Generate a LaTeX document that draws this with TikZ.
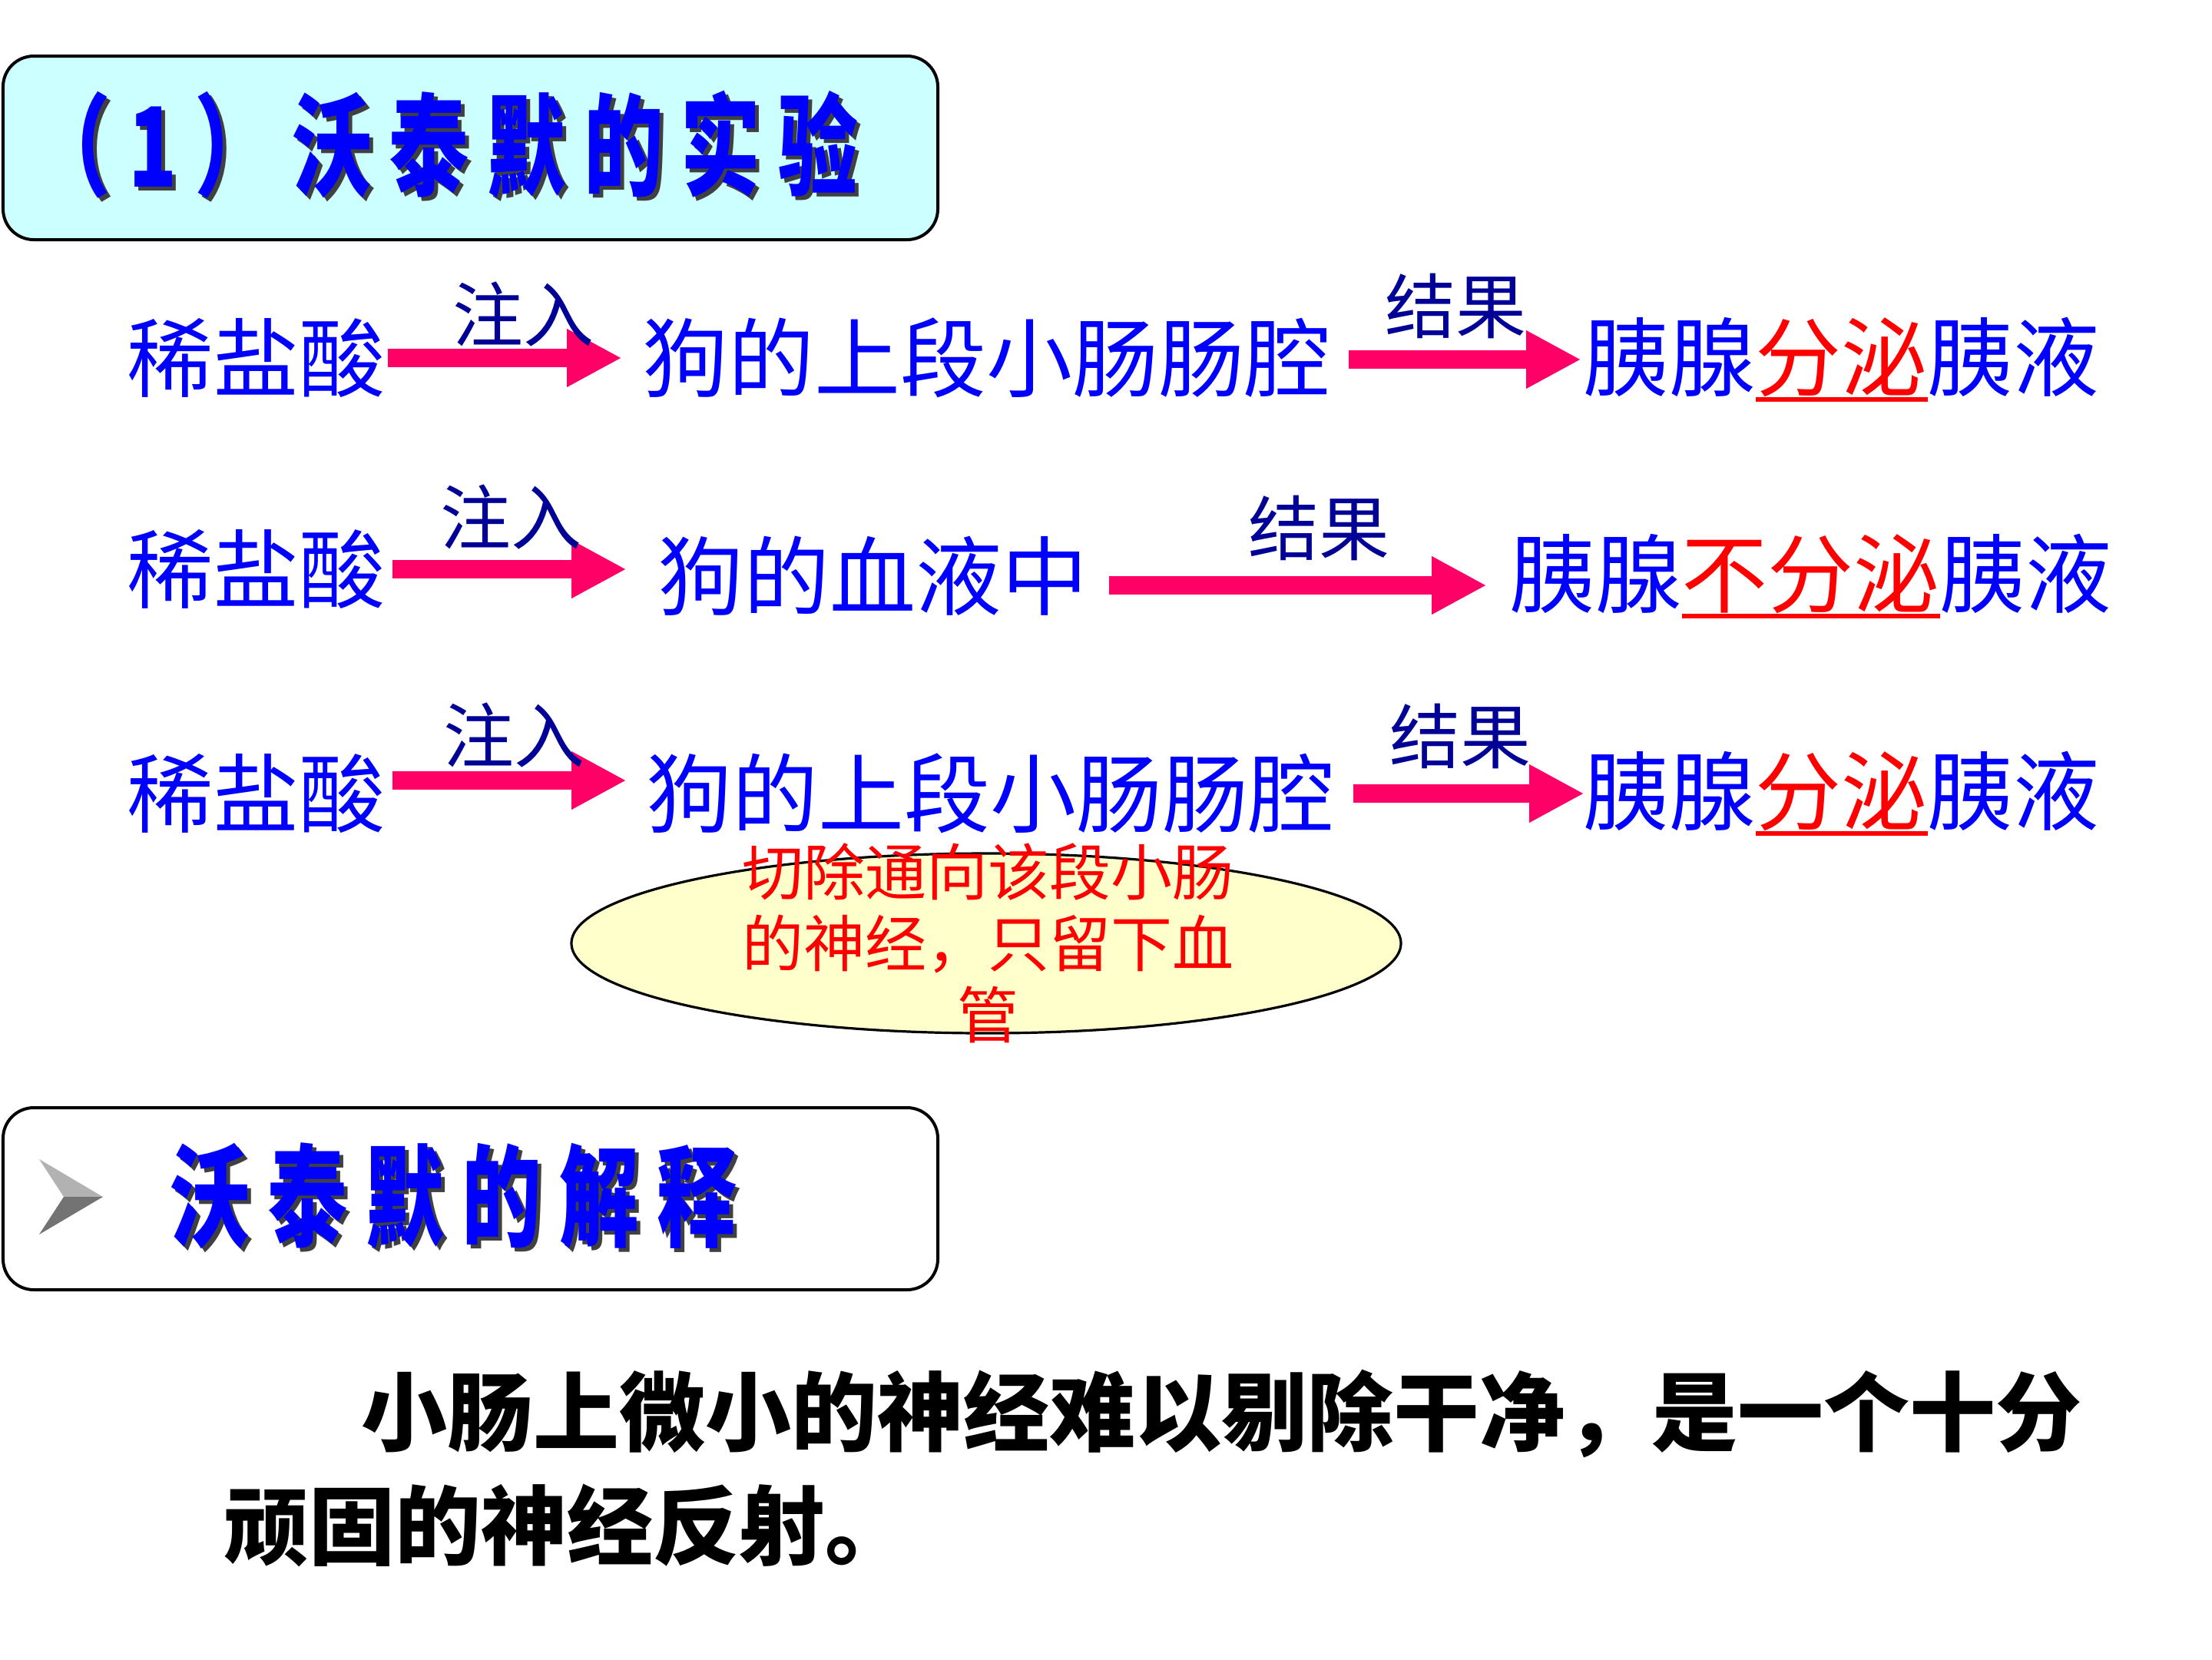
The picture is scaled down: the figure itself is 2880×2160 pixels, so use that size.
\documentclass[tikz,border=0pt]{standalone}
\usepackage{fontspec}
\setmainfont{Noto Sans CJK SC}
\newfontfamily\titlefont[FakeStretch=0.72]{Noto Sans CJK SC}
\usetikzlibrary{arrows.meta,shapes.geometric}
\definecolor{tblue}{RGB}{0,0,255}
\definecolor{navy}{RGB}{0,0,150}
\definecolor{pinkred}{RGB}{255,0,102}
\definecolor{boxcyan}{RGB}{204,255,255}
\definecolor{ellfill}{RGB}{255,255,204}
\newcommand{\tsp}{\hspace{5.75bp}}
\newcommand{\redul}[1]{{\color{red}\setbox0=\hbox{#1}\rlap{\rule[-0.13em]{\wd0}{1.4bp}}\box0}}
\tikzset{
  body/.style={font=\fontsize{28bp}{34bp}\selectfont, text=tblue, inner sep=0pt, anchor=west},
  lbl/.style={font=\fontsize{23bp}{27bp}\selectfont, text=navy, inner sep=0pt},
  bigarrow/.style={draw=pinkred, line width=6bp, -{Triangle[length=17.5bp,width=19bp,line width=0.1pt]}},
  roundbox/.style={draw=black, line width=1bp, rounded corners=10bp, minimum width=304.25bp, inner sep=0pt},
  headtext/.style={font=\titlefont\bfseries\fontsize{36bp}{40bp}\selectfont, text=tblue, inner sep=0pt, anchor=west},
  headshadow/.style={headtext, text=black!75},
  elltext/.style={font=\fontsize{20bp}{23.3bp}\selectfont, text=red, align=center, inner sep=0pt},
  para/.style={font=\bfseries\fontsize{28bp}{34bp}\selectfont, text=black, inner sep=0pt, anchor=west}
}
\begin{document}
\begin{tikzpicture}[x=0.25bp,y=-0.25bp]
\useasboundingbox (0,0) rectangle (2880,2160);
\fill[white] (0,0) rectangle (2880,2160);

% title box
\node[roundbox, fill=boxcyan, minimum height=59.75bp] (tbox) at (612.5,192.5) {};
\node[headshadow] (tshadow) at (45,193) {（\tsp{}1\tsp{}）\tsp{}沃\tsp{}泰\tsp{}默\tsp{}的\tsp{}实\tsp{}验};
\node[headtext] (title) at (40,188) {（\tsp{}1\tsp{}）\tsp{}沃\tsp{}泰\tsp{}默\tsp{}的\tsp{}实\tsp{}验};

% row 1
\node[body] (n11) at (165,466) {稀盐酸};
\node[body] (n12) at (836,466) {狗的上段小肠肠腔};
\node[body] (n13) at (2061,468) {胰腺\redul{分泌}胰液};
\draw[bigarrow, shorten <=0.5bp, shorten >=7bp] (n11.east) -- (n11.east -| n12.west);
\draw[bigarrow, shorten <=5.5bp, shorten >=1bp] ([yshift=-0.5bp]n12.east) -- ([yshift=-0.5bp]n12.east -| n13.west);
\node[lbl] (l11) at (681,409) {注入};
\node[lbl] (l12) at (1895,398) {结果};

% row 2
\node[body] (n21) at (165,741) {稀盐酸};
\node[body] (n22) at (856,750) {狗的血液中};
\node[body] (n23) at (1965,750) {胰腺\redul{不分泌}胰液};
\draw[bigarrow, shorten <=2bp, shorten >=10.5bp] (n21.east) -- (n21.east -| n22.west);
\draw[bigarrow, shorten <=6.5bp, shorten >=7.75bp] ([yshift=-3bp]n22.east) -- ([yshift=-3bp]n22.east -| n23.west);
\node[lbl] (l21) at (665,673) {注入};
\node[lbl] (l22) at (1717,687) {结果};

% row 3
\node[body] (n31) at (165,1033) {稀盐酸};
\node[body] (n32) at (841,1033) {狗的上段小肠肠腔};
\node[body] (n33) at (2061,1033) {胰腺\redul{分泌}胰液};
\draw[bigarrow, shorten <=2bp, shorten >=6.75bp] ([yshift=4.25bp]n31.east) -- ([yshift=4.25bp]n31.east -| n32.west);
\draw[bigarrow, shorten <=5.75bp, shorten >=0bp] (n32.east) -- (n32.east -| n33.west);
\node[lbl] (l31) at (669,957) {注入};
\node[lbl] (l32) at (1901,958) {结果};

% ellipse note
\node[ellipse, draw=black, line width=0.8bp, fill=ellfill, minimum width=270bp, minimum height=58.5bp, inner sep=0pt] (ell) at (1284,1228) {};
\node[elltext] (etext) at (1286,1228) {切除通向该段小肠\\的神经，只留下血\\管};

% explanation box
\node[roundbox, fill=white, minimum height=59.25bp] (ebox) at (612.5,1560.5) {};
\fill[black!30] (51,1509) -- (134,1558) -- (83,1558) -- cycle;
\fill[black!55] (51,1607) -- (134,1558) -- (83,1558) -- cycle;
\node[headshadow] (eshadow) at (226,1562) {沃\tsp{}泰\tsp{}默\tsp{}的\tsp{}解\tsp{}释};
\node[headtext] (etitle) at (221,1557) {沃\tsp{}泰\tsp{}默\tsp{}的\tsp{}解\tsp{}释};

% paragraph
\node[para] (p1) at (470,1840) {小肠上微小的神经难以剔除干净，是一个十分};
\node[para] (p2) at (290,1986) {顽固的神经反射。};
\end{tikzpicture}
\end{document}
